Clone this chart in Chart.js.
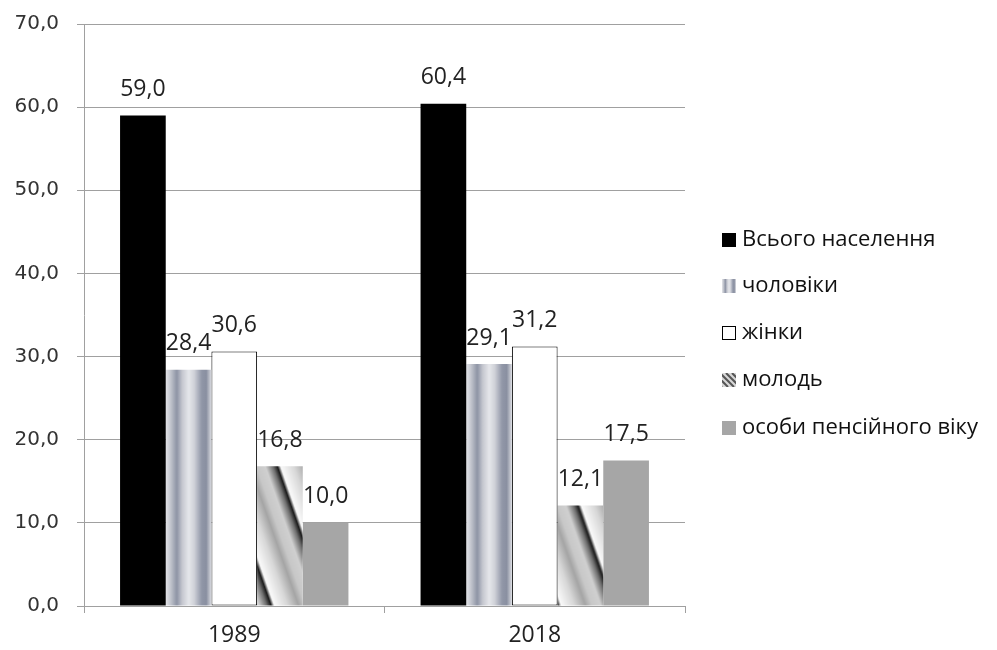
<!DOCTYPE html>
<html><head><meta charset="utf-8">
<script src="https://cdn.jsdelivr.net/npm/chart.js@4/dist/chart.umd.min.js"></script>
<style>html,body{margin:0;padding:0;background:#fff}#wrap{width:997px;height:650px}</style>
</head><body><div id="wrap"><canvas id="c" width="997" height="650"></canvas></div>
<script>
const categories = ['1989', '2018'];
const seriesNames = ['Всього населення', 'чоловіки', 'жінки', 'молодь', 'особи пенсійного віку'];
const total = [59.0, 60.4];
const men = [28.4, 29.1];
const women = [30.6, 31.2];
const youth = [16.8, 12.1];
const pensioners = [10.0, 17.5];
const yTicks = [0, 10, 20, 30, 40, 50, 60, 70];

const canvas = document.getElementById('c');
const ctx = canvas.getContext('2d');

const stripeStops = [[0, '#e3e4e8'], [0.1, '#c4c7cf'], [0.24, '#8e94a5'], [0.36, '#c6c8d0'], [0.5, '#e6e7eb'], [0.62, '#cfd1d8'], [0.78, '#9197a8'], [0.88, '#8a90a1'], [0.96, '#c2c5ce'], [1, '#e3e4e8']];
function stripeCanvas(w) {
  const c = document.createElement('canvas'); c.width = w; c.height = 4;
  const g = c.getContext('2d');
  const gr = g.createLinearGradient(0, 0, w, 0);
  stripeStops.forEach(s => gr.addColorStop(s[0], s[1]));
  g.fillStyle = gr; g.fillRect(0, 0, w, 4);
  return c;
}
function diagCanvas(P, k, off) {
  const W = P, H = Math.round(P / k);
  const c = document.createElement('canvas'); c.width = W; c.height = H;
  const g = c.getContext('2d');
  const img = g.createImageData(W, H);
  const stops = [[0, 25], [0.06, 250], [0.3, 215], [0.5, 165], [0.62, 200], [0.78, 208], [0.92, 110], [1, 25]];
  for (let y = 0; y < H; y++) for (let x = 0; x < W; x++) {
    let u = (((x - off - k * y) % P) + P) % P / P;
    let v = 0;
    for (let i = 0; i < stops.length - 1; i++) {
      if (u >= stops[i][0] && u <= stops[i + 1][0]) {
        const t = (u - stops[i][0]) / (stops[i + 1][0] - stops[i][0]);
        v = stops[i][1] + (stops[i + 1][1] - stops[i][1]) * t; break;
      }
    }
    const o = (y * W + x) * 4;
    img.data[o] = img.data[o + 1] = img.data[o + 2] = v; img.data[o + 3] = 255;
  }
  g.putImageData(img, 0, 0);
  return c;
}
const stripeC = stripeCanvas(46);
const diagC = diagCanvas(55, 0.35, 20);
const stripePats = categories.map(() => ctx.createPattern(stripeC, 'repeat'));
const diagPats = categories.map(() => ctx.createPattern(diagC, 'repeat'));

const solidFills = ['#000000', null, '#ffffff', null, '#a6a6a6'];
const values = [total, men, women, youth, pensioners];

const fmt = v => Number(v).toFixed(1).replace('.', ',');

const patternAlign = {
  id: 'patternAlign',
  beforeDatasetsDraw(chart) {
    [[1, stripePats], [3, diagPats]].forEach(([di, pats]) => {
      chart.getDatasetMeta(di).data.forEach((el, i) => {
        const left = el.x - el.width / 2;
        pats[i].setTransform(new DOMMatrix().translate(left, el.y));
      });
    });
  }
};
const labelPlugin = {
  id: 'valueLabels',
  afterDatasetsDraw(chart) {
    const c = chart.ctx;
    c.save();
    c.font = '23px "Open Sans"';
    c.fillStyle = '#222';
    c.textAlign = 'center';
    c.textBaseline = 'middle';
    chart.data.datasets.forEach((ds, di) => {
      chart.getDatasetMeta(di).data.forEach((el, i) => {
        c.fillText(fmt(ds.data[i]), el.x, el.y - 26);
      });
    });
    c.restore();
  }
};
const legendPlugin = {
  id: 'customLegend',
  afterDraw(chart) {
    const c = chart.ctx;
    c.save();
    c.font = '22px "Open Sans"';
    c.textBaseline = 'middle';
    const rows = [240, 286, 333, 380, 428];
    const bx = 722, bs = 14;
    chart.data.datasets.forEach((ds, i) => {
      const y = rows[i];
      const top = y - 7;
      if (i === 1) {
        const gr = c.createLinearGradient(bx, 0, bx + bs, 0);
        stripeStops.forEach(s => gr.addColorStop(s[0], s[1]));
        c.fillStyle = gr;
        c.fillRect(bx, top, bs, bs);
      } else if (i === 3) {
        c.save();
        c.beginPath(); c.rect(bx, top, bs, bs); c.clip();
        c.fillStyle = '#d8d8d8'; c.fillRect(bx, top, bs, bs);
        c.strokeStyle = '#555'; c.lineWidth = 2;
        for (let s = -14; s <= 14; s += 6) {
          c.beginPath(); c.moveTo(bx + s, top); c.lineTo(bx + s + bs, top + bs); c.stroke();
        }
        c.restore();
      } else {
        c.fillStyle = solidFills[i];
        c.fillRect(bx, top, bs, bs);
        if (i === 2) { c.strokeStyle = '#000'; c.lineWidth = 1; c.strokeRect(bx + 0.5, top + 0.5, bs - 1, bs - 1); }
      }
      c.fillStyle = '#111';
      c.fillText(ds.label, 742, y);
    });
    c.restore();
  }
};

new Chart(canvas, {
  type: 'bar',
  data: {
    labels: categories,
    datasets: seriesNames.map((n, i) => ({
      label: n,
      data: values[i],
      backgroundColor: i === 1 ? (c => stripePats[c.dataIndex] || '#b0b3bd') : i === 3 ? (c => diagPats[c.dataIndex] || '#aaa') : solidFills[i],
      borderColor: '#000',
      borderWidth: i === 2 ? 1 : 0,
      borderSkipped: false,
      categoryPercentage: 0.76,
      barPercentage: 1.0
    }))
  },
  options: {
    responsive: false,
    animation: false,
    devicePixelRatio: 1,
    layout: { padding: { left: 0, right: 312, top: 24, bottom: 0 } },
    plugins: { legend: { display: false }, tooltip: { enabled: false } },
    scales: {
      x: {
        grid: { drawOnChartArea: false, drawTicks: true, tickLength: 7, color: '#a0a0a0', offset: true },
        border: { display: true, color: '#a0a0a0', width: 1 },
        ticks: { color: '#222', font: { family: 'Open Sans', size: 23 }, padding: 9 },
        afterFit(s) { s.height = 44; s.paddingLeft = 0; s.paddingRight = 0; }
      },
      y: {
        min: 0, max: 70,
        afterBuildTicks(s) { s.ticks = yTicks.map(v => ({ value: v })); },
        grid: { color: '#a0a0a0', tickLength: 7 },
        border: { display: true, color: '#a0a0a0', width: 1 },
        ticks: { color: '#333', font: { family: 'DejaVu Sans', size: 20 }, padding: 18, callback: v => fmt(v) },
        afterFit(s) { s.width = 84; s.paddingTop = 0; s.paddingBottom = 0; }
      }
    }
  },
  plugins: [patternAlign, labelPlugin, legendPlugin]
});
</script></body></html>
